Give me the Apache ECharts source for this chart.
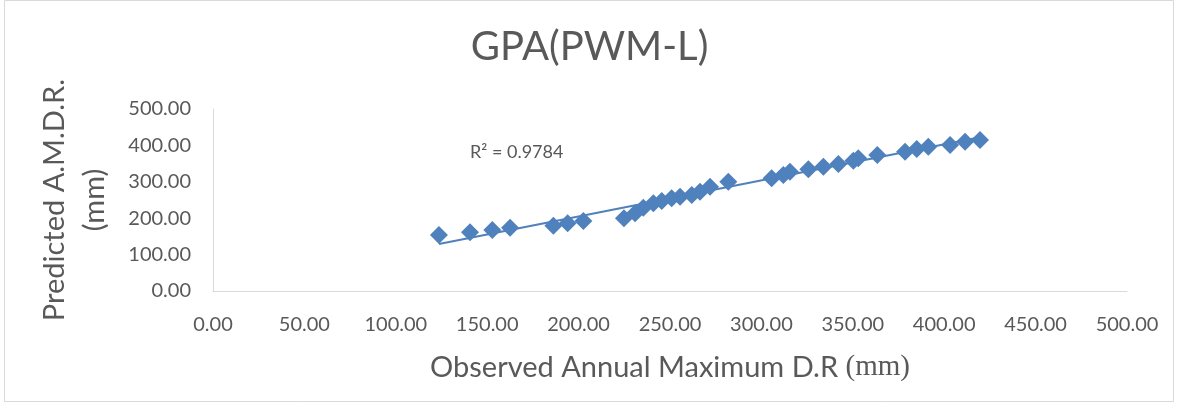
<!DOCTYPE html>
<html>
<head>
<meta charset="utf-8">
<script src="https://cdn.jsdelivr.net/npm/echarts@6/dist/echarts.min.js"></script>
<style>
  html, body { margin: 0; padding: 0; background: #ffffff; }
  #chart { width: 1179px; height: 416px; }
</style>
</head>
<body>
<div id="chart"></div>
<script>
// Observed annual maximum daily rainfall (mm)
const observed = [
  123.6, 140.6, 152.8, 162.5, 186.2, 194.0, 202.6, 224.8, 230.9, 235.4,
  240.9, 245.5, 250.9, 255.5, 261.9, 266.4, 271.9, 281.9, 305.6, 312.0,
  315.6, 325.7, 333.9, 342.1, 350.3, 353.0, 363.4, 378.6, 385.0, 391.3,
  403.2, 411.4, 419.6
];
// GPA (PWM-L) predicted values (mm)
const predicted = [
  153.8, 161.3, 167.6, 173.9, 179.4, 186.0, 192.3, 199.7, 213.5, 228.8,
  240.9, 247.3, 254.7, 259.1, 263.7, 272.8, 286.5, 300.3, 309.6, 318.7,
  327.7, 334.3, 341.5, 348.9, 358.0, 364.6, 373.6, 382.7, 390.1, 396.4,
  401.1, 410.2, 414.8
];
const axisTicks = [0, 50, 100, 150, 200, 250, 300, 350, 400, 450, 500];
const rSquaredText = 'R² = 0.9784';
const chartTitle = 'GPA(PWM-L)';

// Least-squares linear trendline over the observed range
function linearFit(xs, ys) {
  const n = xs.length;
  let sx = 0, sy = 0, sxx = 0, sxy = 0;
  for (let i = 0; i < n; i++) {
    sx += xs[i]; sy += ys[i]; sxx += xs[i] * xs[i]; sxy += xs[i] * ys[i];
  }
  const slope = (n * sxy - sx * sy) / (n * sxx - sx * sx);
  const intercept = (sy - slope * sx) / n;
  return { slope, intercept };
}
const fit = linearFit(observed, predicted);
const xMin = Math.min(...observed), xMax = Math.max(...observed);
const trend = [
  [xMin, fit.intercept + fit.slope * xMin],
  [xMax, fit.intercept + fit.slope * xMax]
];
const points = observed.map((x, i) => [x, predicted[i]]);

const blue = '#4f81bd';
const grey = '#595959';
const font = 'Lato, "Open Sans", sans-serif';

const chart = echarts.init(document.getElementById('chart'));
chart.setOption({
  animation: false,
  backgroundColor: '#ffffff',
  title: {
    text: chartTitle,
    left: 'center',
    top: 22,
    textStyle: { fontFamily: font, fontSize: 40, fontWeight: 'normal', color: grey }
  },
  grid: { left: 213, right: 52, top: 109, bottom: 125, containLabel: false, outerBoundsMode: 'none' },
  xAxis: {
    type: 'value',
    min: axisTicks[0],
    max: axisTicks[axisTicks.length - 1],
    interval: axisTicks[1] - axisTicks[0],
    name: '{a|Observed Annual Maximum D.R }{b|(mm)}',
    nameLocation: 'middle',
    nameGap: 62,
    nameTextStyle: {
      rich: {
        a: { fontFamily: font, fontSize: 29, color: grey },
        b: { fontFamily: '"Liberation Serif", serif', fontSize: 29, color: grey }
      }
    },
    axisLine: { lineStyle: { color: '#d9d9d9', width: 1 } },
    axisTick: { show: false },
    splitLine: { show: false },
    axisLabel: {
      margin: 24, color: grey, fontFamily: font, fontSize: 20,
      formatter: v => v.toFixed(2)
    }
  },
  yAxis: {
    type: 'value',
    min: axisTicks[0],
    max: axisTicks[axisTicks.length - 1],
    interval: 100,
    name: 'Predicted A.M.D.R.\n(mm)',
    nameLocation: 'middle',
    nameGap: 98,
    nameRotate: 90,
    nameTextStyle: { fontFamily: font, fontSize: 29, color: grey, lineHeight: 40 },
    axisLine: { show: true, lineStyle: { color: '#d9d9d9', width: 1 } },
    axisTick: { show: false },
    splitLine: { show: false },
    axisLabel: {
      margin: 22, color: grey, fontFamily: font, fontSize: 20,
      formatter: v => v.toFixed(2)
    }
  },
  series: [
    {
      type: 'line',
      data: trend,
      symbol: 'none',
      lineStyle: { color: blue, width: 2 },
      z: 1,
      silent: true
    },
    {
      type: 'scatter',
      data: points,
      symbol: 'diamond',
      symbolSize: 18,
      itemStyle: { color: blue, opacity: 1 },
      z: 2
    }
  ],
  graphic: [
    {
      type: 'rect',
      shape: { x: 4.5, y: 0.5, width: 1169, height: 401 },
      style: { fill: 'none', stroke: '#d9d9d9', lineWidth: 1 },
      silent: true
    },
    {
      type: 'text',
      left: 470,
      top: 143,
      style: { text: rSquaredText, fontFamily: font, fontSize: 18, fill: grey }
    }
  ]
});
</script>
</body>
</html>
